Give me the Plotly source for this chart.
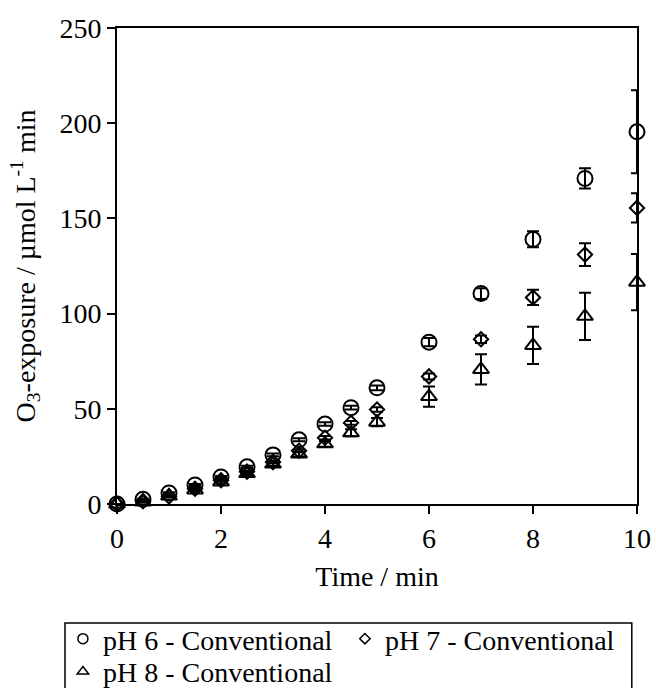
import plotly.graph_objects as go

time = [0, 0.5, 1, 1.5, 2, 2.5, 3, 3.5, 4, 4.5, 5, 6, 7, 8, 9, 10]

ph6 = [0, 2.5, 5.8, 10, 14.2, 19.5, 25.8, 33.7, 42, 50.6, 61, 85, 110.5, 139, 171, 195.5]
ph6_err = [0, 0.3, 0.4, 0.5, 0.5, 0.6, 0.7, 0.8, 0.9, 1, 1.2, 2.2, 2.8, 4.2, 5.3, 21.8]

ph7 = [0, 1.5, 4, 8, 12.5, 17, 22, 28, 34.8, 42.6, 49.6, 67, 86.5, 108.5, 131, 155.5]
ph7_err = [0, 0.3, 0.4, 0.5, 0.5, 0.6, 0.7, 0.8, 0.9, 1, 1.2, 1.6, 2, 4, 6, 7.7]

ph8 = [0, 1, 4.2, 7.4, 11.6, 16, 21, 26.3, 31.6, 37.4, 43, 56.4, 70.7, 83.3, 98.6, 116.5]
ph8_err = [0, 0.3, 0.4, 0.5, 0.7, 0.9, 1.1, 1.3, 1.5, 1.8, 2.2, 5.3, 7.9, 9.8, 12.4, 14.8]

names = ["pH 6 - Conventional", "pH 7 - Conventional", "pH 8 - Conventional"]
symbols = ["circle-open", "diamond-open", "triangle-up-open"]
sizes = [15, 11, 14]
legend_sizes = [10, 8, 10]
legend_groups = ["legend", "legend", "legend2"]

FONT = "Liberation Serif, Times New Roman, serif"

fig = go.Figure()
for ys, es, sym, sz in [(ph8, ph8_err, symbols[2], sizes[2]),
                        (ph7, ph7_err, symbols[1], sizes[1]),
                        (ph6, ph6_err, symbols[0], sizes[0])]:
    fig.add_trace(go.Scatter(
        x=time, y=ys, mode="markers", showlegend=False,
        marker=dict(symbol=sym, size=sz, color="black", line=dict(width=2, color="black")),
        error_y=dict(type="data", array=es, visible=True, color="black", thickness=2, width=6),
        cliponaxis=False,
    ))

for name, sym, lsz, lg in zip(names, symbols, legend_sizes, legend_groups):
    fig.add_trace(go.Scatter(
        x=[None], y=[None], mode="markers", name=name, legend=lg,
        marker=dict(symbol=sym, size=lsz, color="black", line=dict(width=1.5, color="black")),
    ))

axis_common = dict(
    showline=True, linecolor="black", linewidth=2, mirror=True,
    ticks="outside", ticklen=8, tickwidth=2, tickcolor="black",
    showgrid=False, zeroline=False,
    tickfont=dict(family=FONT, size=28, color="black"),
)

legend_common = dict(
    orientation="h", xanchor="left", yanchor="top",
    borderwidth=0, bgcolor="rgba(0,0,0,0)",
    font=dict(family=FONT, size=28, color="black"),
    itemwidth=30, tracegroupgap=0, entrywidth=237,
)

fig.update_layout(
    width=656, height=688,
    margin=dict(l=117, r=19, t=28, b=184, autoexpand=False),
    paper_bgcolor="white", plot_bgcolor="white",
    font=dict(family=FONT, size=28, color="black"),
    xaxis=dict(range=[0, 10], dtick=2,
               title=dict(text="Time / min", font=dict(family=FONT, size=28, color="black"), standoff=14),
               **axis_common),
    yaxis=dict(range=[0, 250], dtick=50,
               title=dict(text="O<sub>3</sub>-exposure / µmol L<sup>-1</sup> min",
                          font=dict(family=FONT, size=28, color="black"), standoff=16),
               **axis_common),
    legend=dict(x=-0.104, y=-0.231, **legend_common),
    legend2=dict(x=-0.104, y=-0.300, **legend_common),
    shapes=[dict(type="rect", xref="paper", yref="paper",
                 x0=-0.1, x1=0.99, y0=-0.6, y1=-0.25,
                 line=dict(color="black", width=1.5), fillcolor="rgba(0,0,0,0)",
                 layer="below")],
)

fig.write_html("out.html")
